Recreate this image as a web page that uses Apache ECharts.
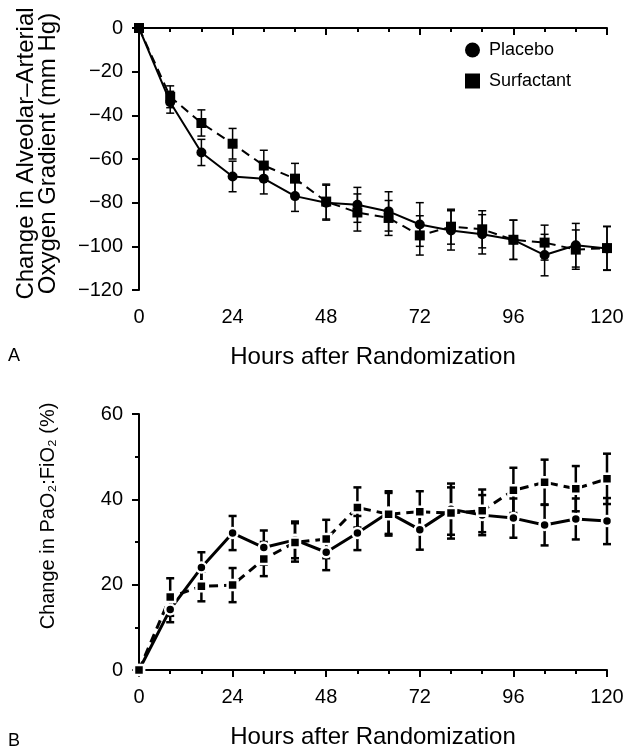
<!DOCTYPE html>
<html>
<head>
<meta charset="utf-8">
<script src="https://cdn.jsdelivr.net/npm/echarts@6/dist/echarts.min.js"></script>
<style>
  html, body { margin: 0; padding: 0; background: #fff; }
  #chart { width: 633px; height: 750px; }
</style>
</head>
<body>
<div id="chart"></div>
<script>
// hours 0..120, every 8 h
const HOURS = [0, 8, 16, 24, 32, 40, 48, 56, 64, 72, 80, 88, 96, 104, 112, 120];
const X_TICKS = [0, 24, 48, 72, 96, 120];

// panel A: alveolar-arterial O2 gradient change (mm Hg)
const A_PLACEBO = [0, -34, -57, -68, -69, -77, -80, -81, -84, -90, -92.7, -94.5, -97, -104, -99.5, -101];
const A_PLACEBO_ERR = [0, 5, 6, 7, 7, 7, 8, 8, 9, 10, 9, 9, 9, 9.5, 10, 10];
const A_SURF = [0, -31.5, -43.5, -53, -63, -69, -79.5, -84.5, -87, -95, -91, -92.2, -97, -98.3, -101.5, -100.8];
const A_SURF_ERR = [0, 5, 6, 7, 7, 7, 8, 8.5, 8, 9, 8, 8.5, 9, 8, 9, 10];
const A_Y_TICKS = [0, -20, -40, -60, -80, -100, -120];

// panel B: PaO2:FiO2 change (%)
const B_PLACEBO = [0, 14.2, 24, 32.1, 28.7, 30.5, 27.6, 32.1, 36.9, 32.9, 37.7, 36.3, 35.6, 34, 35.4, 34.9];
const B_PLACEBO_ERR = [0, 3, 3.6, 4, 4, 4.3, 4.2, 4, 5, 4.7, 6, 4.7, 4.6, 4.8, 4.8, 5.4];
const B_SURF = [0, 17.1, 19.6, 19.9, 26, 29.9, 30.7, 38.1, 36.5, 37.1, 36.8, 37.3, 42.1, 44, 42.5, 44.8];
const B_SURF_ERR = [0, 4.4, 3.5, 4, 4, 4.5, 4.5, 4.7, 5, 4.8, 6, 5, 5.3, 5.3, 5.3, 5.9];
const B_Y_TICKS = [0, 20, 40, 60];

(function () {

    const chart = echarts.init(document.getElementById("chart"));
    const FONT = "Liberation Sans, Arial, sans-serif";
    const INK = "#000";

    const minus = (v) => (v < 0 ? "\u2212" + Math.abs(v) : String(v));

    function xAxis(gridIndex) {
        return {
            type: "value",
            gridIndex,
            min: X_TICKS[0],
            max: X_TICKS[X_TICKS.length - 1],
            interval: X_TICKS[1] - X_TICKS[0],
            name: "Hours after Randomization",
            nameLocation: "middle",
            nameGap: 55,
            nameTextStyle: { color: INK, fontSize: 24, fontFamily: FONT },
            axisLine: { show: true, lineStyle: { color: INK, width: 2 } },
            axisTick: { show: true, length: 7, lineStyle: { color: INK, width: 2 } },
            minorTick: { show: true, splitNumber: 3, length: 4, lineStyle: { color: INK, width: 2 } },
            splitLine: { show: false },
            axisLabel: { color: INK, fontSize: 20, fontFamily: FONT, margin: 17 }
        };
    }

    function yAxis(gridIndex, ticks, name, nameSize, padLeft, minorSplit) {
        const lo = Math.min(...ticks), hi = Math.max(...ticks);
        return {
            type: "value",
            gridIndex,
            min: lo,
            max: hi,
            interval: Math.abs(ticks[1] - ticks[0]),
            name,
            nameLocation: "middle",
            nameGap: 80,
            nameTextStyle: {
                color: INK, fontSize: nameSize, fontFamily: FONT,
                lineHeight: 22, align: "center", padding: [0, 0, 0, padLeft]
            },
            axisLine: { show: true, lineStyle: { color: INK, width: 2 } },
            axisTick: { show: true, length: 7, lineStyle: { color: INK, width: 2 } },
            minorTick: { show: !!minorSplit, splitNumber: minorSplit || 1, length: 4, lineStyle: { color: INK, width: 2 } },
            splitLine: { show: false },
            axisLabel: { color: INK, fontSize: 20, fontFamily: FONT, margin: 16, formatter: minus }
        };
    }

    function lineSeries(name, idx, vals, symbol, dashed, width, gap) {
        return {
            type: "line",
            name,
            xAxisIndex: idx,
            yAxisIndex: idx,
            data: HOURS.map((h, i) => [h, vals[i]]),
            symbol,
            symbolSize: 10,
            showSymbol: true,
            clip: false,
            z: 3,
            lineStyle: { color: INK, width, type: dashed ? [9, 6] : "solid" },
            itemStyle: gap
                ? { color: INK, borderColor: "#fff", borderWidth: 2.5 }
                : { color: INK, borderWidth: 0 }
        };
    }

    function errorBars(idx, vals, errs, width) {
        return {
            type: "custom",
            xAxisIndex: idx,
            yAxisIndex: idx,
            silent: true,
            clip: false,
            z: 2,
            encode: { x: 0, y: [1, 2] },
            data: HOURS.map((h, i) => [h, vals[i] - errs[i], vals[i] + errs[i]]),
            renderItem: (params, api) => {
                const x = api.value(0);
                if (api.value(1) === api.value(2)) return { type: "group", children: [] };
                const a = api.coord([x, api.value(1)]);
                const b = api.coord([x, api.value(2)]);
                const cap = 4;
                const style = { stroke: INK, lineWidth: width };
                return {
                    type: "group",
                    children: [
                        { type: "line", shape: { x1: a[0], y1: a[1], x2: b[0], y2: b[1] }, style },
                        { type: "line", shape: { x1: a[0] - cap, y1: a[1], x2: a[0] + cap, y2: a[1] }, style },
                        { type: "line", shape: { x1: b[0] - cap, y1: b[1], x2: b[0] + cap, y2: b[1] }, style }
                    ]
                };
            }
        };
    }

    const option = {
        animation: false,
        backgroundColor: "#fff",
        grid: [
            { left: 139, top: 28, width: 468, height: 262 },
            { left: 139, top: 414, width: 468, height: 262 }
        ],
        legend: {
            left: 460,
            top: 36,
            orient: "vertical",
            itemWidth: 15,
            itemHeight: 15,
            itemGap: 13,
            data: [
                { name: "Placebo", icon: "circle" },
                { name: "Surfactant", icon: "rect" }
            ],
            itemStyle: { color: INK, borderWidth: 0 },
            textStyle: { color: INK, fontSize: 18, fontFamily: FONT, padding: [0, 0, 0, 4] }
        },
        xAxis: [xAxis(0), xAxis(1)],
        yAxis: [
            yAxis(0, A_Y_TICKS, "Change in Alveolar\u2013Arterial\nOxygen Gradient (mm Hg)", 24, 11, 0),
            yAxis(1, B_Y_TICKS, "Change in PaO\u2082:FiO\u2082 (%)", 20, 52, 2)
        ],
        graphic: [
            { type: "text", left: 8, top: 347, style: { text: "A", fill: INK, font: "18px " + FONT } },
            { type: "text", left: 8, top: 732, style: { text: "B", fill: INK, font: "18px " + FONT } }
        ],
        series: [
            errorBars(0, A_PLACEBO, A_PLACEBO_ERR, 1.5),
            errorBars(0, A_SURF, A_SURF_ERR, 1.5),
            lineSeries("Placebo", 0, A_PLACEBO, "circle", false, 2, false),
            lineSeries("Surfactant", 0, A_SURF, "rect", true, 2, false),
            errorBars(1, B_PLACEBO, B_PLACEBO_ERR, 2.5),
            errorBars(1, B_SURF, B_SURF_ERR, 2.5),
            lineSeries("Placebo", 1, B_PLACEBO, "circle", false, 3, true),
            lineSeries("Surfactant", 1, B_SURF, "rect", true, 3, true)
        ]
    };

    chart.setOption(option);

})();
</script>
</body>
</html>
